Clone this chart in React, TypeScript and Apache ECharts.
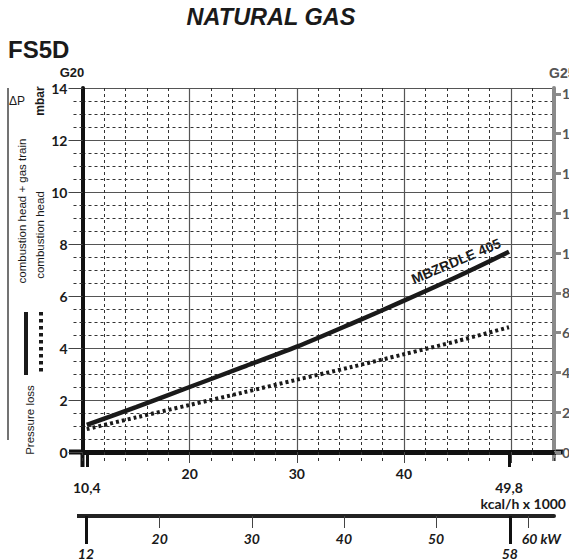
import React, { useEffect, useRef } from 'react';
import * as echarts from 'echarts';

// ---- data ----
const kcalPoints = [10.4, 15, 20, 25, 30, 35, 40, 45, 49.8];
const headPlusTrain = [1.04, 1.73, 2.5, 3.27, 4.05, 4.92, 5.82, 6.75, 7.7];
const headOnly = [0.88, 1.33, 1.81, 2.29, 2.78, 3.26, 3.76, 4.27, 4.8];

const kcalLabelTicks = [20, 30, 40];
const kcalMajorTicks = [20, 30, 40, 50];
const kcalRange = [10.4, 49.8];
const kwTicks = [20, 30, 40, 50, 60];
const kwRange = [12, 58];
const mbarTicks = [0, 2, 4, 6, 8, 10, 12, 14];
const g25Ticks = [0, 2, 4, 6, 8, 10, 12, 14, 16, 18];

const KCAL_MIN = 10;
const KCAL_MAX = 54;
const KCAL_PER_KW = 0.86;

const NUM_FONT = 'Lato';
const TXT_FONT = 'Liberation Sans';
const INK = '#1a1a1a';

export default function App() {
  const ref = useRef<HTMLDivElement>(null);

  useEffect(() => {
    if (!ref.current) return;
    const chart = echarts.init(ref.current, null, { renderer: 'svg' });

    const gridLeft = 82.5;
    const gridRight = 15;

    const option: any = {
      animation: false,
      backgroundColor: '#ffffff',
      grid: [
        { left: gridLeft, right: gridRight, top: 88, bottom: 108, containLabel: false, outerBoundsMode: 'none' },
        { left: gridLeft, right: gridRight, top: 515, height: 1, containLabel: false, outerBoundsMode: 'none' },
      ],
      xAxis: [
        // 0: minor dashed grid every 2
        {
          type: 'value', gridIndex: 0, position: 'bottom', min: KCAL_MIN, max: KCAL_MAX, interval: 2,
          axisLine: { show: false },
          axisLabel: { show: false },
          axisTick: { show: true, length: 9, lineStyle: { color: '#333', width: 1, type: [3, 3] } },
          splitLine: { show: true, lineStyle: { color: '#333', width: 1, type: [3, 3] } },
        },
        // 1: major kcal axis
        {
          type: 'value', gridIndex: 0, position: 'bottom', min: KCAL_MIN, max: KCAL_MAX, interval: 10,
          axisLine: { show: true, onZero: false, lineStyle: { color: '#111', width: 5 } },
          axisTick: { show: true, length: 11, customValues: kcalMajorTicks, lineStyle: { color: '#444', width: 1 } },
          axisLabel: {
            show: true, customValues: kcalLabelTicks, margin: 14,
            color: INK, fontFamily: NUM_FONT, fontWeight: 'bold', fontSize: 14,
          },
          splitLine: { show: true, lineStyle: { color: '#555', width: 1.2 } },
        },
        // 2: burner range kcal ticks
        {
          type: 'value', gridIndex: 0, position: 'bottom', min: KCAL_MIN, max: KCAL_MAX,
          axisLine: { show: false },
          axisTick: { show: true, length: 15, customValues: kcalRange, lineStyle: { color: '#111', width: 3 } },
          axisLabel: {
            show: true, customValues: kcalRange, margin: 28,
            formatter: (v: number) => String(v).replace('.', ','),
            color: INK, fontFamily: NUM_FONT, fontWeight: 'bold', fontSize: 14,
          },
          splitLine: { show: false },
        },
        // 3: kW axis
        {
          type: 'value', gridIndex: 1, position: 'bottom',
          min: KCAL_MIN / KCAL_PER_KW, max: KCAL_MAX / KCAL_PER_KW,
          axisLine: { show: true, onZero: false, lineStyle: { color: '#222', width: 4 } },
          axisTick: { show: true, length: 12, customValues: kwTicks, lineStyle: { color: '#444', width: 1 } },
          axisLabel: {
            show: true, customValues: kwTicks, margin: 15,
            formatter: (v: number) => (v === 60 ? '{u|' + v + ' kW}' : String(v)),
            rich: {
              u: { fontFamily: NUM_FONT, fontStyle: 'italic', fontWeight: 'bold', fontSize: 14, color: INK, padding: [0, 0, 0, 26] },
            },
            color: INK, fontFamily: NUM_FONT, fontStyle: 'italic', fontWeight: 'bold', fontSize: 14,
          },
          splitLine: { show: false },
        },
        // 4: kW burner range
        {
          type: 'value', gridIndex: 1, position: 'bottom',
          min: KCAL_MIN / KCAL_PER_KW, max: KCAL_MAX / KCAL_PER_KW,
          axisLine: { show: false },
          axisTick: { show: true, length: 28, customValues: kwRange, lineStyle: { color: '#111', width: 3 } },
          axisLabel: {
            show: true, customValues: kwRange, margin: 30,
            color: INK, fontFamily: NUM_FONT, fontStyle: 'italic', fontWeight: 'bold', fontSize: 14,
          },
          splitLine: { show: false },
        },
      ],
      yAxis: [
        // 0: minor dashed every 0.5
        {
          type: 'value', gridIndex: 0, position: 'left', min: 0, max: 14, interval: 0.5,
          axisLine: { show: false },
          axisLabel: { show: false },
          axisTick: { show: true, length: 12, lineStyle: { color: '#333', width: 1, type: [3, 3] } },
          splitLine: { show: true, lineStyle: { color: '#333', width: 1, type: [3, 3] } },
        },
        // 1: major mbar axis (G20)
        {
          type: 'value', gridIndex: 0, position: 'left', min: 0, max: 14, interval: 2,
          axisLine: { show: true, onZero: false, lineStyle: { color: '#111', width: 4 } },
          axisTick: { show: true, length: 14, lineStyle: { color: '#444', width: 1 } },
          axisLabel: {
            show: true, margin: 15, customValues: mbarTicks,
            color: INK, fontFamily: NUM_FONT, fontWeight: 'bold', fontSize: 14,
          },
          splitLine: { show: true, lineStyle: { color: '#555', width: 1.2 } },
        },
        // 2: right grey axis (G25)
        {
          type: 'value', gridIndex: 0, position: 'right', min: 0, max: 18.3,
          axisLine: { show: true, onZero: false, lineStyle: { color: '#8a8a8a', width: 4 } },
          axisTick: { show: true, length: 7, customValues: g25Ticks, lineStyle: { color: '#8a8a8a', width: 3 } },
          axisLabel: {
            show: true, margin: 8, customValues: g25Ticks,
            color: '#555', fontFamily: NUM_FONT, fontWeight: 'bold', fontSize: 14,
          },
          splitLine: { show: false },
        },
        // 3: hidden y for kW grid
        { type: 'value', gridIndex: 1, min: 0, max: 1, show: false },
      ],
      series: [
        {
          name: 'combustion head + gas train',
          type: 'line', xAxisIndex: 1, yAxisIndex: 1,
          data: kcalPoints.map((x, i) => [x, headPlusTrain[i]]),
          smooth: 0.3, showSymbol: false, symbol: 'none',
          lineStyle: { color: INK, width: 4.5, cap: 'butt' },
          z: 5,
        },
        {
          name: 'combustion head',
          type: 'line', xAxisIndex: 1, yAxisIndex: 1,
          data: kcalPoints.map((x, i) => [x, headOnly[i]]),
          smooth: 0.3, showSymbol: false, symbol: 'none',
          lineStyle: { color: INK, width: 4, type: [3, 3], cap: 'butt' },
          z: 5,
        },
        {
          type: 'line', xAxisIndex: 3, yAxisIndex: 3, data: [], showSymbol: false,
        },
      ],
      graphic: [
        // titles
        {
          type: 'text', x: 271, y: 17,
          style: { text: 'NATURAL GAS', fill: INK, fontFamily: TXT_FONT, fontWeight: 'bold', fontStyle: 'italic', fontSize: 23.5, align: 'center', verticalAlign: 'middle' },
        },
        {
          type: 'text', x: 8, y: 49,
          style: { text: 'FS5D', fill: INK, fontFamily: TXT_FONT, fontWeight: 'bold', fontSize: 24, align: 'left', verticalAlign: 'middle' },
        },
        // axis names
        {
          type: 'text', x: 72, y: 72,
          style: { text: 'G20', fill: INK, fontFamily: TXT_FONT, fontWeight: 'bold', fontSize: 13, align: 'center', verticalAlign: 'middle' },
        },
        {
          type: 'text', x: 549, y: 73,
          style: { text: 'G25', fill: '#555', fontFamily: TXT_FONT, fontWeight: 'bold', fontSize: 14, align: 'left', verticalAlign: 'middle' },
        },
        {
          type: 'text', x: 566, y: 503,
          style: { text: 'kcal/h x 1000', fill: INK, fontFamily: NUM_FONT, fontWeight: 'bold', fontSize: 14, align: 'right', verticalAlign: 'middle' },
        },
        // axis line extensions
        { type: 'line', shape: { x1: 554, y1: 452, x2: 554, y2: 461 }, style: { stroke: '#8a8a8a', lineWidth: 4 } },
        { type: 'line', shape: { x1: 69, y1: 452, x2: 84, y2: 452 }, style: { stroke: '#111', lineWidth: 5 } },
        { type: 'line', shape: { x1: 552, y1: 452, x2: 563, y2: 452 }, style: { stroke: '#111', lineWidth: 5 } },
        { type: 'line', shape: { x1: 82.5, y1: 450, x2: 82.5, y2: 467 }, style: { stroke: '#111', lineWidth: 4 } },
        { type: 'line', shape: { x1: 77, y1: 516, x2: 84, y2: 516 }, style: { stroke: '#222', lineWidth: 4 } },
        // left legend block
        { type: 'line', shape: { x1: 8, y1: 88, x2: 8, y2: 440 }, style: { stroke: '#444', lineWidth: 1.5 } },
        {
          type: 'text', x: 9, y: 101,
          style: { text: '\u0394P', fill: INK, fontFamily: TXT_FONT, fontSize: 12, align: 'left', verticalAlign: 'middle' },
        },
        {
          type: 'text', x: 40, y: 101, rotation: Math.PI / 2,
          style: { text: 'mbar', fill: INK, fontFamily: TXT_FONT, fontWeight: 'bold', fontSize: 12, align: 'center', verticalAlign: 'middle' },
        },
        {
          type: 'text', x: 22, y: 211, rotation: Math.PI / 2,
          style: { text: 'combustion head + gas train', fill: INK, fontFamily: TXT_FONT, fontSize: 11.5, align: 'center', verticalAlign: 'middle' },
        },
        {
          type: 'text', x: 40, y: 235, rotation: Math.PI / 2,
          style: { text: 'combustion head', fill: INK, fontFamily: TXT_FONT, fontSize: 11.5, align: 'center', verticalAlign: 'middle' },
        },
        { type: 'line', shape: { x1: 26, y1: 312, x2: 26, y2: 375 }, style: { stroke: INK, lineWidth: 4 } },
        { type: 'line', shape: { x1: 41, y1: 312, x2: 41, y2: 375 }, style: { stroke: INK, lineWidth: 4, lineDash: [3.5, 3.5] } },
        {
          type: 'text', x: 30, y: 420, rotation: Math.PI / 2,
          style: { text: 'Pressure loss', fill: INK, fontFamily: TXT_FONT, fontSize: 11.5, align: 'center', verticalAlign: 'middle' },
        },
        // curve label
        {
          type: 'text', x: 456, y: 261, rotation: 0.40,
          style: { text: 'MBZRDLE 405', fill: INK, fontFamily: TXT_FONT, fontWeight: 'bold', fontSize: 14, align: 'center', verticalAlign: 'middle' },
        },
      ],
    };

    chart.setOption(option);
    return () => {
      chart.dispose();
    };
  }, []);

  return (
    <div
      ref={ref}
      style={{ position: 'absolute', left: 0, top: 0, width: 569, height: 560 }}
    />
  );
}
